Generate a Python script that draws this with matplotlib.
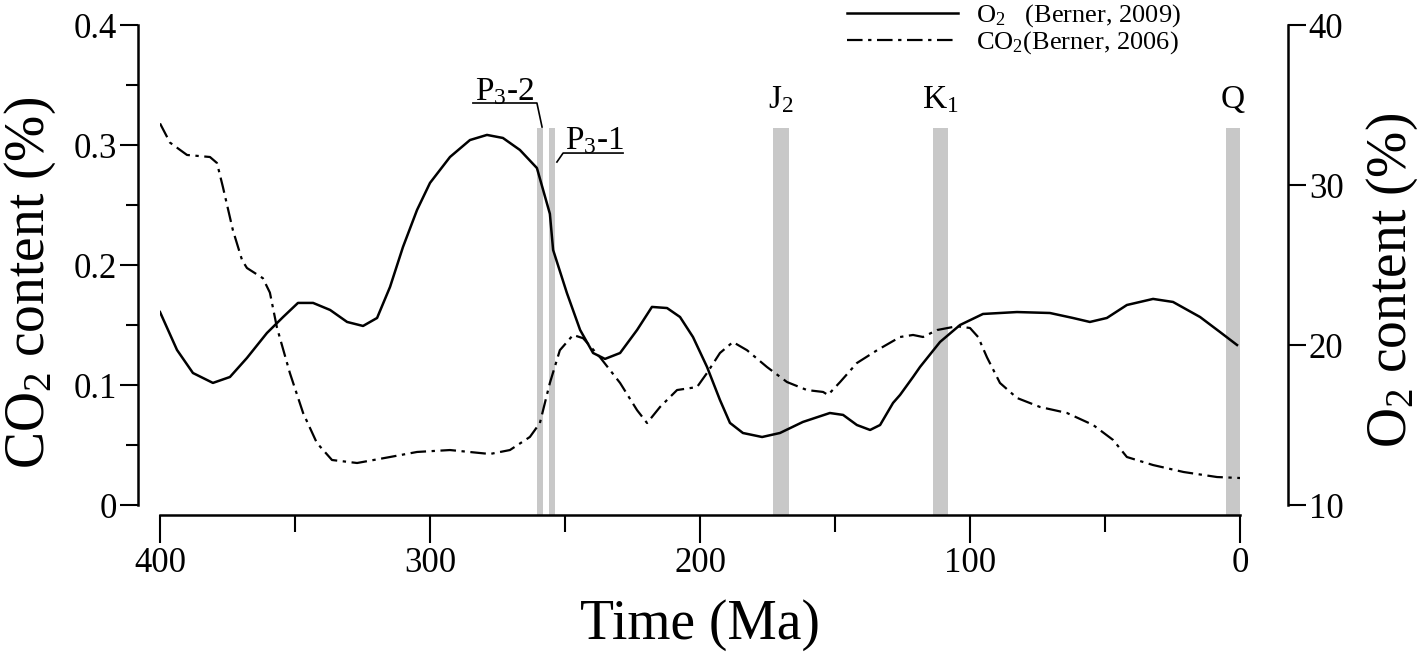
import matplotlib
matplotlib.use("Agg")
import matplotlib.pyplot as plt
from matplotlib.ticker import FixedLocator

plt.rcParams['font.family'] = ['Liberation Serif', 'DejaVu Serif']
plt.rcParams['mathtext.fontset'] = 'custom'
plt.rcParams['mathtext.rm'] = 'Liberation Serif'
plt.rcParams['mathtext.it'] = 'Liberation Serif:italic'

# O2 (Berner, 2009), right axis
o2_time = [400, 393.7, 387.8, 380.4, 374.1, 367.8, 360.4, 354.4, 348.9, 343.3, 337, 330.7,
           324.8, 319.6, 314.8, 310, 304.8, 300, 292.6, 285.2, 278.9, 273, 266.7, 260.4,
           255.6, 254.4, 249.3, 244.4, 239.6, 235.2, 229.6, 223.3, 217.8, 212.2, 207.4,
           202.6, 197.4, 192.6, 188.9, 184.1, 177, 170.4, 161.9, 151.9, 147, 141.9, 137,
           133.3, 128.5, 125.9, 121.1, 118.5, 111.1, 103.7, 95.2, 82.6, 70.4, 61.9, 55.6,
           49.3, 41.9, 32.2, 24.8, 14.8, 7.4, 1.1]
o2_value = [22.06, 19.69, 18.25, 17.63, 18.0, 19.19, 20.75, 21.75, 22.63, 22.63, 22.19, 21.44,
            21.19, 21.69, 23.63, 26.13, 28.44, 30.13, 31.75, 32.81, 33.13, 32.94, 32.19, 31.06,
            28.2, 25.94, 23.25, 20.94, 19.5, 19.13, 19.5, 20.94, 22.38, 22.31, 21.75,
            20.5, 18.63, 16.56, 15.13, 14.5, 14.25, 14.5, 15.19, 15.75, 15.63, 15.0, 14.69,
            15.0, 16.38, 16.88, 18.0, 18.63, 20.19, 21.25, 21.94, 22.06, 22.0, 21.69, 21.44,
            21.69, 22.5, 22.88, 22.69, 21.75, 20.81, 20.0]

# CO2 (Berner, 2006), left axis
co2_time = [400, 396.3, 390, 381.5, 378.9, 376.7, 373, 369.6, 367.8, 361.9, 359.3, 356.7,
            351.9, 347, 341.9, 336.3, 327, 314.8, 304.8, 292.6, 277.8, 270.4, 263, 259.3,
            255.6, 251.9, 247, 243.3, 237, 229.6, 223.3, 219.6, 214.8, 208.5, 201.1, 197.4,
            192.6, 187.8, 182.6, 175.2, 167.8, 160.4, 154.4, 152.6, 148.1, 141.9, 134.4,
            125.9, 121.1, 117.4, 112.2, 104.8, 100, 97, 93.7, 88.9, 82.6, 74.1, 64.1, 54.4,
            47, 41.9, 32.2, 20.9, 8.5, 0]
co2_value = [0.318, 0.302, 0.2917, 0.29, 0.285, 0.265, 0.229, 0.204, 0.1975, 0.189, 0.177,
             0.148, 0.11, 0.0767, 0.0517, 0.0375, 0.035, 0.04, 0.0442, 0.0458, 0.0425, 0.0458,
             0.0567, 0.0683, 0.1017, 0.129, 0.1417, 0.139, 0.123, 0.1017, 0.079, 0.0683,
             0.0817, 0.0958, 0.0983, 0.11, 0.1267, 0.1358, 0.129, 0.115, 0.1025, 0.0958,
             0.0942, 0.0917, 0.1025, 0.1183, 0.129, 0.14, 0.1417, 0.14, 0.1458, 0.149, 0.1475,
             0.14, 0.123, 0.1017, 0.0892, 0.0817, 0.0767, 0.0667, 0.0542, 0.04, 0.0333,
             0.0275, 0.0233, 0.0225]

# grey bands (Ma)
band_start = [258.0, 253.7, 167.0, 108.0, 0.0]
band_end = [260.5, 256.0, 173.0, 113.7, 5.2]

fig = plt.figure(figsize=(14.18, 6.54), dpi=100)
ax = fig.add_axes([160 / 1418, 1 - 505 / 654, 1080 / 1418, 480 / 654])
ax2 = ax.twinx()

# bands
for s, e in zip(band_start, band_end):
    ax.axvspan(s, e, ymin=-10 / 480, ymax=377 / 480, color='#c8c8c8', lw=0, clip_on=False, zorder=0)

co2_line, = ax.plot(co2_time, co2_value, color='black', lw=1.6, dashes=(7, 2.5, 1.5, 2.5),
                    solid_joinstyle='round')
o2_line, = ax2.plot(o2_time, o2_value, color='black', lw=1.8, solid_joinstyle='round')

ax.set_xlim(400, 0)
ax.set_ylim(0, 0.4)
ax2.set_ylim(10, 40)

for a in (ax, ax2):
    a.patch.set_visible(False)
    for sp in a.spines.values():
        sp.set_linewidth(1.8)
ax.spines['top'].set_visible(False)
ax.spines['right'].set_visible(False)
ax.spines['left'].set_position(('outward', 16))
ax.spines['bottom'].set_position(('outward', 7.2))
ax.spines['left'].set_bounds(0, 0.4)
ax.spines['bottom'].set_bounds(0, 400)
ax2.spines['top'].set_visible(False)
ax2.spines['left'].set_visible(False)
ax2.spines['bottom'].set_visible(False)
ax2.spines['right'].set_position(('outward', 34.5))
ax2.spines['right'].set_bounds(10, 40)

ax.xaxis.set_major_locator(FixedLocator([0, 100, 200, 300, 400]))
ax.xaxis.set_minor_locator(FixedLocator([50, 150, 250, 350]))
ax.yaxis.set_major_locator(FixedLocator([0, 0.1, 0.2, 0.3, 0.4]))
ax.yaxis.set_minor_locator(FixedLocator([0.05, 0.15, 0.25, 0.35]))
ax.set_yticklabels(['0', '0.1', '0.2', '0.3', '0.4'])
ax2.yaxis.set_major_locator(FixedLocator([10, 20, 30, 40]))

ax.tick_params(axis='x', which='major', direction='out', length=20, width=1.5, labelsize=25, pad=3)
ax.tick_params(axis='x', which='minor', direction='out', length=12, width=1.5)
ax.tick_params(axis='y', which='major', direction='out', length=13, width=1.5, labelsize=25, pad=2)
ax.tick_params(axis='y', which='minor', direction='out', length=8.5, width=1.5)
ax2.tick_params(axis='y', direction='out', length=13, width=1.5, labelsize=25, pad=2)

fig.text(30 / 1418, 1 - 283 / 654, 'CO$_2$ content (%)', rotation=90, ha='center', va='center', fontsize=40)
fig.text(1392 / 1418, 1 - 280 / 654, 'O$_2$ content (%)', rotation=90, ha='center', va='center', fontsize=40)
fig.text(700 / 1418, 1 - 625 / 654, 'Time (Ma)', ha='center', va='center', fontsize=40)

# band labels
ax.text(283.3, 0.3375, 'P$_3$-2', fontsize=24, ha='left', va='baseline')
ax.plot([284.1, 260.4, 258.5], [0.335, 0.335, 0.315], color='black', lw=1.2, clip_on=False)
ax.text(250.0, 0.2967, 'P$_3$-1', fontsize=24, ha='left', va='baseline')
ax.plot([228.5, 250.7, 253.0], [0.2933, 0.2933, 0.2858], color='black', lw=1.2, clip_on=False)
ax.text(170.0, 0.331, 'J$_2$', fontsize=24, ha='center', va='baseline')
ax.text(110.9, 0.331, 'K$_1$', fontsize=24, ha='center', va='baseline')
ax.text(2.6, 0.331, 'Q', fontsize=24, ha='center', va='baseline')

fig.legend([o2_line, co2_line], ['O$_2$   (Berner, 2009)', 'CO$_2$(Berner, 2006)'],
           loc='upper left', bbox_to_anchor=(847 / 1418, 0.996), frameon=False,
           fontsize=19, handlelength=4.2, handletextpad=0.7, labelspacing=0.0,
           borderpad=0, borderaxespad=0)

fig.savefig('out.png', dpi=100)
